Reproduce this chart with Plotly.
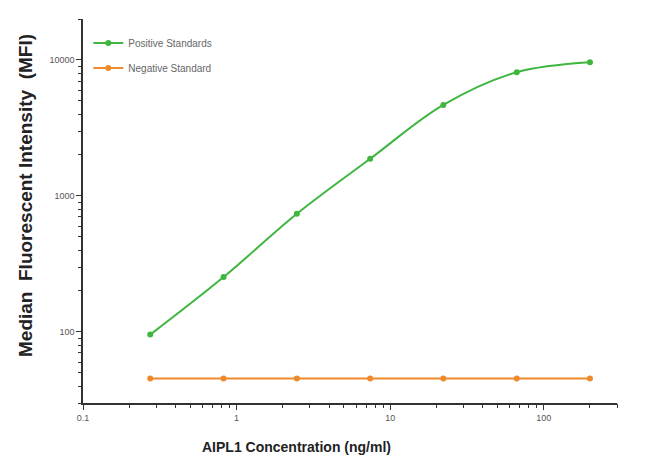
import numpy as np
import plotly.graph_objects as go

concentration = [0.274, 0.823, 2.47, 7.41, 22.2, 66.7, 200]
positive_mfi = [95.5, 253, 739, 1875, 4672, 8125, 9620]
negative_mfi = [45.4, 45.4, 45.4, 45.4, 45.4, 45.4, 45.4]

green = "#3fb63f"
orange = "#ef8a2c"

X_RANGE = [-1, np.log10(300)]
Y_RANGE = [np.log10(30), np.log10(20000)]


def minor_vals(lo, hi):
    vals = []
    for e in range(-2, 6):
        for m in range(2, 10):
            v = m * 10.0 ** e
            if lo * 0.9999 <= v <= hi * 1.0001:
                vals.append(v)
    return vals


fig = go.Figure()
fig.add_trace(go.Scatter(
    x=concentration, y=positive_mfi, name="Positive Standards",
    mode="lines+markers", line=dict(color=green, width=2, shape="spline", smoothing=1),
    marker=dict(color=green, size=6), legendgroup="a"))
fig.add_trace(go.Scatter(
    x=concentration, y=negative_mfi, name="Negative Standard",
    mode="lines+markers", line=dict(color=orange, width=2),
    marker=dict(color=orange, size=6), legendgroup="b"))
# invisible carrier trace so the overlay (minor-tick) axes get drawn
fig.add_trace(go.Scatter(
    x=concentration, y=negative_mfi, xaxis="x2", yaxis="y2", mode="markers",
    marker=dict(opacity=0), showlegend=False, hoverinfo="skip"))

tickfont = dict(family="Liberation Sans, Arial", size=9, color="#555")
axis_common = dict(
    type="log", dtick=1,
    showgrid=True, gridcolor="rgba(0,0,0,0)",
    showline=True, linecolor="#333", linewidth=1.5,
    ticks="outside", ticklen=5, tickwidth=1.2, tickcolor="#333",
    tickfont=tickfont,
    minor=dict(ticks="outside", ticklen=3, tickwidth=1.2, tickcolor="#333", dtick="D1"),
)
minor_axis = dict(
    type="log", showgrid=False, zeroline=False, showline=False,
    ticks="outside", ticklen=3, tickwidth=1.2, tickcolor="#333",
    showticklabels=False, tickmode="array",
)

fig.update_layout(
    width=650, height=466,
    margin=dict(l=83, r=33, t=19, b=63),
    paper_bgcolor="white", plot_bgcolor="white",
    showlegend=True,
    legend=dict(x=0.01, y=0.975, xanchor="left", yanchor="top",
                font=dict(family="Liberation Sans, Arial", size=10, color="#666"),
                tracegroupgap=6, bgcolor="rgba(0,0,0,0)"),
    xaxis=dict(range=X_RANGE, **axis_common),
    yaxis=dict(range=Y_RANGE, tickformat="d", **axis_common),
    xaxis2=dict(range=X_RANGE, overlaying="x", anchor="y2", side="bottom",
                tickvals=minor_vals(0.1, 300), **minor_axis),
    yaxis2=dict(range=Y_RANGE, overlaying="y", anchor="x2", side="left",
                tickvals=minor_vals(30, 20000), **minor_axis),
    annotations=[
        dict(text="<b>AIPL1 Concentration (ng/ml)</b>", xref="paper", yref="paper",
             x=(296 - 83) / 534, y=-0.115, xanchor="center", yanchor="middle",
             showarrow=False,
             font=dict(family="Liberation Sans, Arial", size=14, color="#222")),
        dict(text="<b>Median&nbsp;&nbsp;Fluorescent Intensity&nbsp;&nbsp;(MFI)</b>",
             xref="paper", yref="paper", textangle=-90,
             x=(25 - 83) / 534, y=(403 - 196) / 384, xanchor="center", yanchor="middle",
             showarrow=False,
             font=dict(family="Liberation Sans, Arial", size=19, color="#222")),
    ],
)

fig.write_html("out.html")
